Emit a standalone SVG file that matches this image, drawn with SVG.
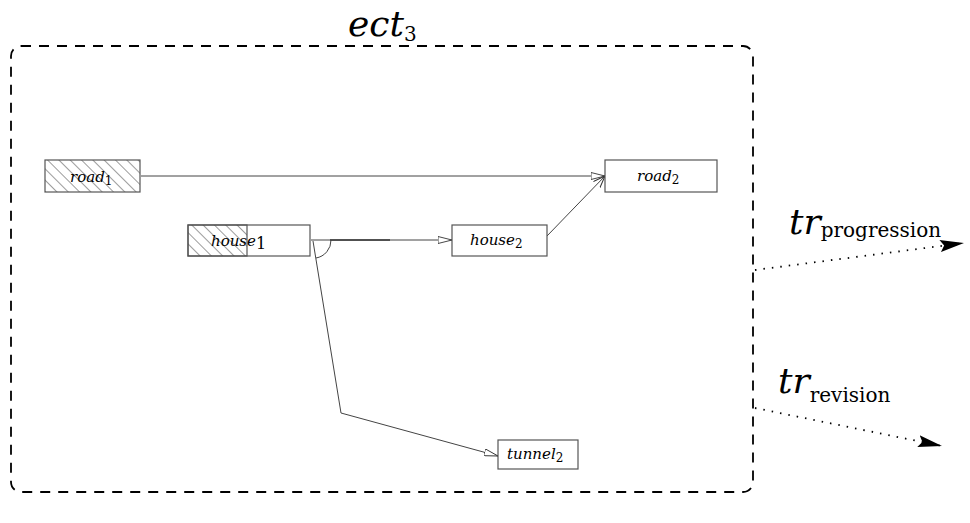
<svg xmlns="http://www.w3.org/2000/svg" width="970" height="523" viewBox="0 0 970 523">
  <defs>
    <pattern id="hatch" patternUnits="userSpaceOnUse" width="8" height="8" patternTransform="rotate(-45)">
      <line x1="0" y1="0" x2="0" y2="8" stroke="#222" stroke-width="0.9"/>
    </pattern>
    <marker id="open" viewBox="0 0 14 8" refX="14" refY="4" markerWidth="14" markerHeight="8" markerUnits="userSpaceOnUse" orient="auto">
      <path d="M0,0.5 L14,4 L0,7.5 Z" fill="#fff" stroke="#333" stroke-width="0.9"/>
    </marker>
    <marker id="vee" viewBox="0 0 12 10" refX="12" refY="5" markerWidth="12" markerHeight="10" markerUnits="userSpaceOnUse" orient="auto">
      <path d="M0,0.5 L12,5 L0,9.5" fill="none" stroke="#333" stroke-width="1"/>
    </marker>
    <marker id="solid" viewBox="0 0 24 12" refX="24" refY="6" markerWidth="24" markerHeight="12" markerUnits="userSpaceOnUse" orient="auto">
      <path d="M0,0 L24,6 L0,12 L4,6 Z" fill="#000"/>
    </marker>
  </defs>
  <style>
    .box { fill: #fff; stroke: #555; stroke-width: 1.2; }
    .serif { font-family: 'DejaVu Serif', 'Liberation Serif', serif; }
    .lbl { font-style: italic; font-size: 15px; fill: #000; }
    .sub { font-style: normal; font-size: 12px; }
    .edge { fill: none; stroke: #444; stroke-width: 1; }
    .tr { fill: none; stroke: #000; stroke-width: 1.8; stroke-dasharray: 1.5 7; }
    .big { font-style: italic; font-size: 36px; fill: #000; }
    .bigsub { font-style: normal; font-size: 20px; }
  </style>

  <!-- frame of the ect3 context -->
  <g id="ect3">
    <rect x="11" y="46" width="742" height="446" rx="10" ry="10" fill="none" stroke="#000" stroke-width="1.8" stroke-dasharray="10 8"/>
    <text class="big serif" x="348" y="36">ect<tspan class="bigsub" dy="5" font-size="24">3</tspan></text>
  </g>

  <!-- connectors -->
  <g id="connectors">
    <line class="edge" x1="141" y1="176" x2="605" y2="176" marker-end="url(#open)"/>
    <line class="edge" x1="311" y1="240" x2="452" y2="240" marker-end="url(#open)"/>
    <line x1="330" y1="240" x2="390" y2="240" stroke="#000" stroke-width="1"/>
    <line class="edge" x1="547" y1="236" x2="605" y2="176" marker-end="url(#vee)"/>
    <polyline class="edge" points="313,241 341,413 498,456" marker-end="url(#open)"/>
    <path class="edge" d="M331,240 A18,18 0 0 1 316,258" stroke="#222"/>
    <line class="tr" x1="755" y1="270" x2="964" y2="243" marker-end="url(#solid)"/>
    <line class="tr" x1="755" y1="408" x2="942" y2="446" marker-end="url(#solid)"/>
  </g>

  <g id="road1">
    <rect x="45" y="160" width="95" height="32" fill="url(#hatch)" stroke="#555" stroke-width="1.2"/>
    <text class="lbl serif" x="70" y="182">road<tspan class="sub" dy="3">1</tspan></text>
  </g>

  <g id="house1">
    <rect class="box" x="188" y="225" width="122" height="31"/>
    <rect x="188" y="225" width="59" height="31" fill="url(#hatch)" stroke="#555" stroke-width="1.2"/>
    <text class="lbl serif" x="211" y="246">house<tspan style="font-style:normal;font-size:16px" dy="3">1</tspan></text>
  </g>

  <g id="house2">
    <rect class="box" x="452" y="225" width="95" height="31"/>
    <text class="lbl serif" x="470" y="245">house<tspan class="sub" dy="3">2</tspan></text>
  </g>

  <g id="road2">
    <rect class="box" x="605" y="160" width="112" height="32"/>
    <text class="lbl serif" x="637" y="181">road<tspan class="sub" dy="3">2</tspan></text>
  </g>

  <g id="tunnel2">
    <rect class="box" x="498" y="440" width="80" height="29"/>
    <text class="lbl serif" x="507" y="459">tunnel<tspan class="sub" dy="3">2</tspan></text>
  </g>

  <g id="tr-progression">
    <text class="big serif" x="789" y="234">tr<tspan class="bigsub" dy="3">progression</tspan></text>
  </g>

  <g id="tr-revision">
    <text class="big serif" x="778" y="393">tr<tspan class="bigsub" dy="9">revision</tspan></text>
  </g>
</svg>
